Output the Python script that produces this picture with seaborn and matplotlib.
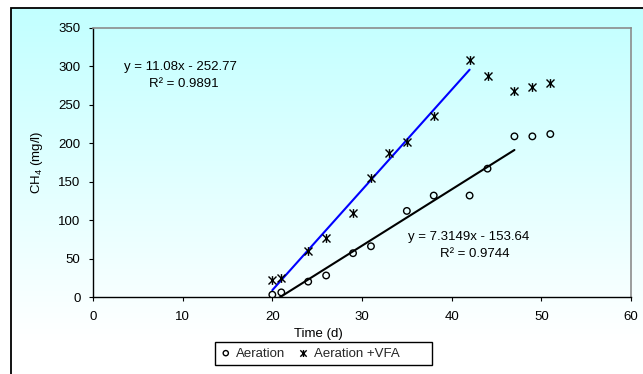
import numpy as np
import pandas as pd
import matplotlib
matplotlib.use("Agg")
import matplotlib.pyplot as plt
import seaborn as sns
from matplotlib.path import Path
from matplotlib.patches import Rectangle

# ---- data ----
time_aer = [20, 21, 24, 26, 29, 31, 35, 38, 42, 44, 47, 49, 51]
ch4_aer = [3, 6, 20, 28, 57, 66, 112, 132, 132, 167, 209, 209, 212]
time_vfa = [20, 21, 24, 26, 29, 31, 33, 35, 38, 42, 44, 47, 49, 51]
ch4_vfa = [22, 25, 60, 77, 109, 155, 187, 202, 235, 308, 288, 268, 273, 279]
fit_end_aer = 47   # trend line fitted up to this day
fit_end_vfa = 42
eq_vfa = ["y = 11.08x - 252.77", "R² = 0.9891"]
eq_aer = ["y = 7.3149x - 153.64", "R² = 0.9744"]
series_labels = ["Aeration", "Aeration +VFA"]
x_ticks = [0, 10, 20, 30, 40, 50, 60]
y_ticks = [0, 50, 100, 150, 200, 250, 300, 350]

sns.set_theme(style="white")
plt.rcParams["font.family"] = ["Liberation Sans", "DejaVu Sans"]
plt.rcParams["mathtext.fontset"] = "custom"
plt.rcParams["mathtext.rm"] = "Liberation Sans"
FS = 9.5

W, H = 643, 374
fig = plt.figure(figsize=(W / 100, H / 100), dpi=100)
fig.patch.set_facecolor("white")

# gradient background inside border
bg = fig.add_axes([11 / W, 0, 1 - 11 / W, 1 - 8 / H], zorder=-10)
n = 400
t = np.linspace(0, 1, n)  # top -> bottom
rows = (1 - 8 / H) * H
frac = np.clip(t * rows / (340 - 8), 0, 1)
top = np.array([0.76, 1.0, 1.0])
cols = top[None, :] * (1 - frac[:, None]) + np.array([1.0, 1.0, 1.0])[None, :] * frac[:, None]
img = np.repeat(cols[:, None, :], 2, axis=1)
bg.imshow(img, aspect="auto", extent=[0, 1, 0, 1])
bg.set_axis_off()
# black border (left & top visible)
fig.add_artist(Rectangle((11 / W, -0.2), 1.2, 1.2 - 8 / H, transform=fig.transFigure,
                         fill=False, edgecolor="black", linewidth=1.3))

ax = fig.add_axes([93 / W, 1 - 297 / H, (631 - 93) / W, (297 - 28) / H])
ax.patch.set_alpha(0)

df_aer = pd.DataFrame({"t": time_aer, "c": ch4_aer})
df_vfa = pd.DataFrame({"t": time_vfa, "c": ch4_vfa})

star = Path([(-1, -1), (1, 1), (-1, 1), (1, -1), (0, -1.1), (0, 1.1)],
            [Path.MOVETO, Path.LINETO, Path.MOVETO, Path.LINETO, Path.MOVETO, Path.LINETO])

sns.regplot(data=df_vfa[df_vfa.t <= fit_end_vfa], x="t", y="c", scatter=False, ci=None,
            truncate=True, color="#0000ff", line_kws=dict(lw=1.5), ax=ax)
sns.regplot(data=df_aer[df_aer.t <= fit_end_aer], x="t", y="c", scatter=False, ci=None,
            truncate=True, color="black", line_kws=dict(lw=1.5), ax=ax)

sns.scatterplot(data=df_aer, x="t", y="c", marker="o", s=22, facecolors="none",
                edgecolor="black", linewidth=1.0, ax=ax, label=series_labels[0], zorder=5)
sns.scatterplot(data=df_vfa, x="t", y="c", marker=star, s=40, color="black",
                edgecolor="black", linewidth=1.0, ax=ax, label=series_labels[1], zorder=5)

ax.set_xlim(0, 60)
ax.set_ylim(0, 350)
ax.set_xticks(x_ticks)
ax.set_yticks(y_ticks)
ax.tick_params(axis="both", which="both", direction="out", length=3, width=0.8,
               colors="black", labelsize=FS, bottom=True, left=True)
ax.tick_params(axis="y", pad=6)
ax.tick_params(axis="x", pad=7)
for s in ["left", "bottom"]:
    ax.spines[s].set_color("black")
    ax.spines[s].set_linewidth(1.0)
for s in ["top", "right"]:
    ax.spines[s].set_color("#8c8c8c")
    ax.spines[s].set_linewidth(1.2)

ax.set_xlabel("Time (d)", fontsize=FS, color="black")
ax.set_ylabel("CH$_4$ (mg/l)", fontsize=FS, color="black")
ax.xaxis.set_label_coords((318 - 93) / (631 - 93), -(328 - 297) / (297 - 28))
ax.yaxis.set_label_coords(-(93 - 45) / (631 - 93), 0.5)

ax.text(9.7, 299, eq_vfa[0], fontsize=FS, ha="center", va="center", color="black")
ax.text(10.1, 277, eq_vfa[1], fontsize=FS, ha="center", va="center", color="black")
ax.text(41.9, 78, eq_aer[0], fontsize=FS, ha="center", va="center", color="black")
ax.text(42.6, 56, eq_aer[1], fontsize=FS, ha="center", va="center", color="black")

handles, labels = ax.get_legend_handles_labels()
if ax.get_legend():
    ax.get_legend().remove()
leg = fig.legend(handles, labels, loc="center left",
                 bbox_to_anchor=(220.5 / W, 1 - 353.5 / H),
                 ncol=2, fontsize=FS, frameon=False, handlelength=0.8, handletextpad=0.4,
                 columnspacing=0.95, borderpad=0, borderaxespad=0, markerscale=0.8)
fig.add_artist(Rectangle((215 / W, 1 - 365 / H), (432 - 215) / W, (365 - 342) / H,
                         transform=fig.transFigure, fill=True, facecolor="white",
                         edgecolor="black", linewidth=1.0, zorder=1))
leg.set_zorder(3)

fig.savefig("out.png", dpi=100)
